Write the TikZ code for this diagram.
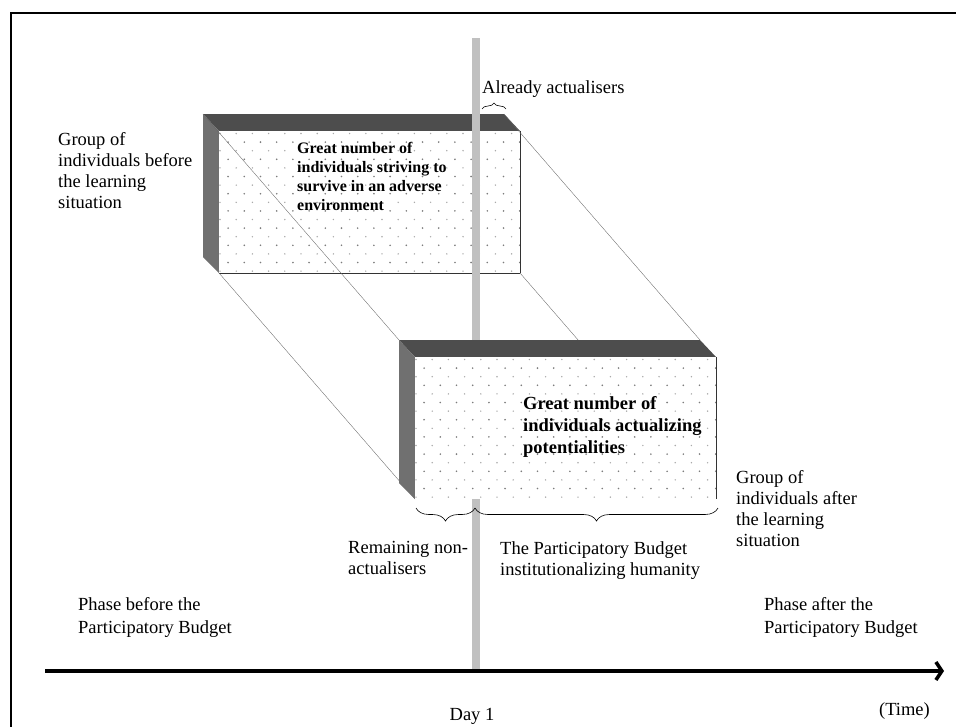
\documentclass[tikz,border=0pt]{standalone}
\usepackage{fontspec}
\setmainfont{Liberation Serif}
\usetikzlibrary{arrows.meta,decorations.pathreplacing}

\definecolor{topface}{RGB}{77,77,77}
\definecolor{sideface}{RGB}{112,112,112}
\definecolor{daybar}{RGB}{192,192,192}
\definecolor{dotdark}{RGB}{125,125,125}
\definecolor{dotlight}{RGB}{170,170,170}

\tikzset{
  frameline/.style={line width=2.3pt},
  linkline/.style={line width=0.35pt, black!60},
  edgeline/.style={line width=0.6pt, black!80},
  txt/.style={inner sep=0pt, align=left, anchor=north west,
    font=\fontsize{18.5}{21}\selectfont},
  txtb/.style={inner sep=0pt, align=left, anchor=north west,
    font=\fontsize{18.5}{22}\selectfont\bfseries},
  txts/.style={inner sep=0pt, align=left, anchor=north west,
    font=\fontsize{16}{19}\selectfont\bfseries},
  bracepath/.style={decorate, decoration={brace, amplitude=#1}, line width=0.6pt},
  timeaxis/.style={line width=3.5pt,
    -{Straight Barb[length=6pt,width=18pt]}},
}

% A slab: dark top band, grey left side, dotted white front face.
% #1,#2 = top-left corner of the front face, #3 = name prefix
\newcommand{\slab}[3]{%
  \coordinate (#3-ftl) at (#1,#2);
  \coordinate (#3-ftr) at (#1+301,#2);
  \coordinate (#3-fbr) at (#1+301,#2+142);
  \coordinate (#3-fbl) at (#1,#2+142);
  \coordinate (#3-btl) at (#1-16,#2-17);
  \coordinate (#3-btr) at (#1+285,#2-17);
  \coordinate (#3-bbl) at (#1-16,#2+126);
  \fill[topface] (#3-btl) -- (#3-btr) -- (#3-ftr) -- (#3-ftl) -- cycle;
  \fill[sideface] (#3-btl) -- (#3-ftl) -- (#3-fbl) -- (#3-bbl) -- cycle;
  \fill[white] (#3-ftl) rectangle (#3-fbr);
  \begin{scope}
    \clip (#3-ftl) rectangle (#3-fbr);
    \foreach \r in {0,...,16} {
      \pgfmathsetmacro{\odd}{mod(\r,2)}
      \foreach \c in {0,...,19} {
        \ifdim\odd pt>0.5pt
          \fill[dotdark] ({#1+9.1+\c*16.2},{#2+2.5+\r*8.6}) circle (0.9pt);
        \else
          \fill[dotlight] ({#1+1+\c*16.2},{#2+2.5+\r*8.6}) circle (0.8pt);
        \fi
      }
    }
  \end{scope}
  \draw[edgeline] (#3-ftr) -- (#3-fbr);
}

\begin{document}
\begin{tikzpicture}[x=1pt,y=-1pt]
  \useasboundingbox (0,0) rectangle (956,726);
  \clip (0,0) rectangle (956,726);

  % outer frame (runs off the right and bottom)
  \coordinate (frA) at (11,740);
  \coordinate (frB) at (11,13);
  \coordinate (frC) at (970,13);
  \draw[frameline] (frA) -- (frB) -- (frC);

  % group before the learning situation
  \slab{219}{131}{s1}
  \draw[edgeline] (s1-fbr) -- (s1-fbl);
  \node[txts] (s1text) at (297,142.4)
    {Great number of\\individuals striving to\\survive in an adverse\\environment};

  % projection lines from the first slab to the second
  \coordinate (s2-btl) at (399,340);
  \coordinate (s2-btr) at (700,340);
  \coordinate (s2-fbl) at (415,499);
  \coordinate (s2-fbr) at (716,499);
  \draw[linkline] (s1-btl) -- (s2-btl);
  \draw[linkline] (s1-btr) -- (s2-btr);
  \draw[linkline] (s1-fbl) -- (s2-fbl);
  \draw[linkline] (s1-fbr) -- (s2-fbr);

  % Day 1 marker bar
  \coordinate (barTop) at (472,38);
  \coordinate (barBot) at (480,671);
  \fill[daybar] (barTop) rectangle (barBot);

  % group after the learning situation
  \slab{415}{357}{s2}
  \node[txtb] (s2text) at (523,396.5)
    {Great number of\\individuals actualizing\\potentialities};

  % braces
  \coordinate (brA1) at (482,109);
  \coordinate (brA2) at (506,109);
  \draw[bracepath=6pt] (brA1) -- (brA2);
  \coordinate (brB1) at (416,508);
  \coordinate (brB2) at (475,508);
  \coordinate (brB3) at (718,508);
  \draw[bracepath=13pt] (brB2) -- (brB1);
  \draw[bracepath=13pt] (brB3) -- (brB2);

  % time axis
  \coordinate (t0) at (45,671);
  \coordinate (t1) at (944,671);
  \draw[timeaxis] (t0) -- (t1);

  % labels
  \node[txt] (already) at (482,80) {Already actualisers};
  \node[txt] (grpbefore) at (58,132.5)
    {Group of\\individuals before\\the learning\\situation};
  \node[txt] (grpafter) at (736,470.5)
    {Group of\\individuals after\\the learning\\situation};
  \node[txt] (remaining) at (348,541.5) {Remaining non-\\actualisers};
  \node[txt] (pbinst) at (500,541.5)
    {The Participatory Budget\\institutionalizing humanity};
  \node[txt, font=\fontsize{18.5}{23}\selectfont] (phbefore) at (78,597.5)
    {Phase before the\\Participatory Budget};
  \node[txt, font=\fontsize{18.5}{23}\selectfont] (phafter) at (764,597.5)
    {Phase after the\\Participatory Budget};
  \node[inner sep=0pt, anchor=east, font=\fontsize{18.5}{21}\selectfont]
    (timelbl) at (930,711) {(Time)};
  \node[inner sep=0pt, anchor=center, font=\fontsize{18.5}{21}\selectfont]
    (day1) at (472,716) {Day 1};
\end{tikzpicture}
\end{document}
